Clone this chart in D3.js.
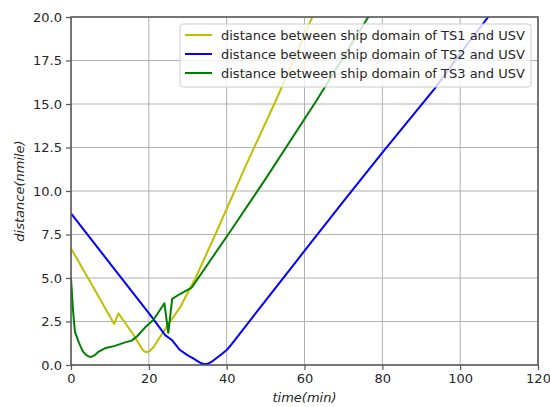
<!DOCTYPE html>
<html>
<head>
<meta charset="utf-8">
<script src="https://cdn.jsdelivr.net/npm/d3@7"></script>
<style>
  body { margin: 0; background: #fff; }
  svg text { font-family: "DejaVu Sans", sans-serif; fill: #262626; }
</style>
</head>
<body>
<div id="chart"></div>
<script>
// values
const ts1Time = [0, 5, 11.1, 12.2, 14, 16, 17.5, 18.5, 19.3, 20.2, 21.2, 23, 25, 28, 32, 37.6, 45, 52.7, 62];
const ts1Dist = [6.7, 4.75, 2.36, 2.97, 2.4, 1.75, 1.2, 0.85, 0.73, 0.8, 1.02, 1.65, 2.35, 3.3, 5.0, 7.76, 11.5, 15.23, 20];

const ts2Time = [0, 10, 20.7, 24.2, 25.9, 28, 30, 31.4, 32.5, 33.5, 34.4, 35.4, 36.5, 38, 39, 40, 41, 50, 58.8, 70, 80, 93.5, 100, 107.2];
const ts2Dist = [8.72, 5.84, 2.78, 1.72, 1.44, 0.86, 0.55, 0.38, 0.22, 0.1, 0.05, 0.09, 0.24, 0.5, 0.68, 0.86, 1.12, 3.7, 6.22, 9.4, 12.2, 15.9, 17.9, 20];

const ts3Time = [0, 0.5, 1, 2, 3, 4, 5, 6, 7, 8.7, 11.3, 13.9, 15.6, 17, 19, 21.2, 24, 25, 26, 28, 31, 35, 41.3, 50, 63.1, 70, 76.4];
const ts3Dist = [5.0, 3.2, 1.92, 1.3, 0.8, 0.55, 0.45, 0.55, 0.75, 0.96, 1.1, 1.3, 1.4, 1.65, 2.15, 2.6, 3.55, 1.85, 3.8, 4.08, 4.45, 5.75, 7.8, 10.7, 15.2, 17.7, 20];

const seriesNames = [
  'distance between ship domain of TS1 and USV',
  'distance between ship domain of TS2 and USV',
  'distance between ship domain of TS3 and USV'
];
const seriesColors = ['#bfbf00', '#0000ff', '#008000'];

const xTicks = [0, 20, 40, 60, 80, 100, 120];
const yTicks = [0, 2.5, 5, 7.5, 10, 12.5, 15, 17.5, 20];

const width = 550, height = 407;
const margin = { top: 17, right: 12, bottom: 42, left: 71 };
const iw = width - margin.left - margin.right;
const ih = height - margin.top - margin.bottom;

const svg = d3.select('#chart').append('svg')
  .attr('width', width)
  .attr('height', height);

const g = svg.append('g').attr('transform', `translate(${margin.left},${margin.top})`);

const x = d3.scaleLinear().domain([0, 120]).range([0, iw]);
const y = d3.scaleLinear().domain([0, 20]).range([ih, 0]);

// grid
g.append('g').selectAll('line').data(xTicks).enter().append('line')
  .attr('x1', d => x(d)).attr('x2', d => x(d))
  .attr('y1', 0).attr('y2', ih)
  .attr('stroke', '#b0b0b0').attr('stroke-width', 1);
g.append('g').selectAll('line').data(yTicks).enter().append('line')
  .attr('x1', 0).attr('x2', iw)
  .attr('y1', d => y(d)).attr('y2', d => y(d))
  .attr('stroke', '#b0b0b0').attr('stroke-width', 1);

// lines
g.append('clipPath').attr('id', 'clip')
  .append('rect').attr('width', iw).attr('height', ih);

const series = [
  ts1Time.map((t, i) => [t, ts1Dist[i]]),
  ts2Time.map((t, i) => [t, ts2Dist[i]]),
  ts3Time.map((t, i) => [t, ts3Dist[i]])
];

const line = d3.line().x(d => x(d[0])).y(d => y(d[1]));

g.append('g').attr('clip-path', 'url(#clip)')
  .selectAll('path').data(series).enter().append('path')
  .attr('d', line)
  .attr('fill', 'none')
  .attr('stroke', (d, i) => seriesColors[i])
  .attr('stroke-width', 2)
  .attr('stroke-linejoin', 'round');

// axes
const xAxis = g.append('g').attr('transform', `translate(0,${ih})`)
  .call(d3.axisBottom(x).tickValues(xTicks).tickSize(5).tickPadding(4).tickFormat(d3.format('d')));
const yAxis = g.append('g')
  .call(d3.axisLeft(y).tickValues(yTicks).tickSize(5).tickPadding(4).tickFormat(d3.format('.1f')));

[xAxis, yAxis].forEach(a => {
  a.select('.domain').remove();
  a.selectAll('line').attr('stroke', '#555').attr('stroke-width', 1.2);
  a.selectAll('text').attr('font-size', 13).attr('fill', '#262626')
    .style('font-family', '"DejaVu Sans", sans-serif');
});

// frame
g.append('rect').attr('width', iw).attr('height', ih)
  .attr('fill', 'none').attr('stroke', '#555').attr('stroke-width', 1.5);

// axis labels
svg.append('text')
  .attr('x', margin.left + iw / 2).attr('y', 402)
  .attr('text-anchor', 'middle').attr('font-size', 13).attr('font-style', 'italic')
  .text('time(min)');
svg.append('text')
  .attr('transform', `translate(24,${margin.top + ih / 2}) rotate(-90)`)
  .attr('text-anchor', 'middle').attr('font-size', 13).attr('font-style', 'italic')
  .text('distance(nmile)');

// legend
const legend = g.append('g').attr('transform', `translate(${x(120) - 358},7)`);
legend.append('rect')
  .attr('width', 351).attr('height', 63).attr('rx', 3)
  .attr('fill', 'rgba(255,255,255,0.8)').attr('stroke', '#cccccc');
const items = legend.selectAll('g.item').data(seriesNames).enter().append('g')
  .attr('class', 'item')
  .attr('transform', (d, i) => `translate(0,${11 + i * 19})`);
items.append('line')
  .attr('x1', 5).attr('x2', 32)
  .attr('stroke', (d, i) => seriesColors[i]).attr('stroke-width', 2);
items.append('text')
  .attr('x', 41).attr('dy', '0.35em').attr('font-size', 13)
  .text(d => d);
</script>
</body>
</html>
